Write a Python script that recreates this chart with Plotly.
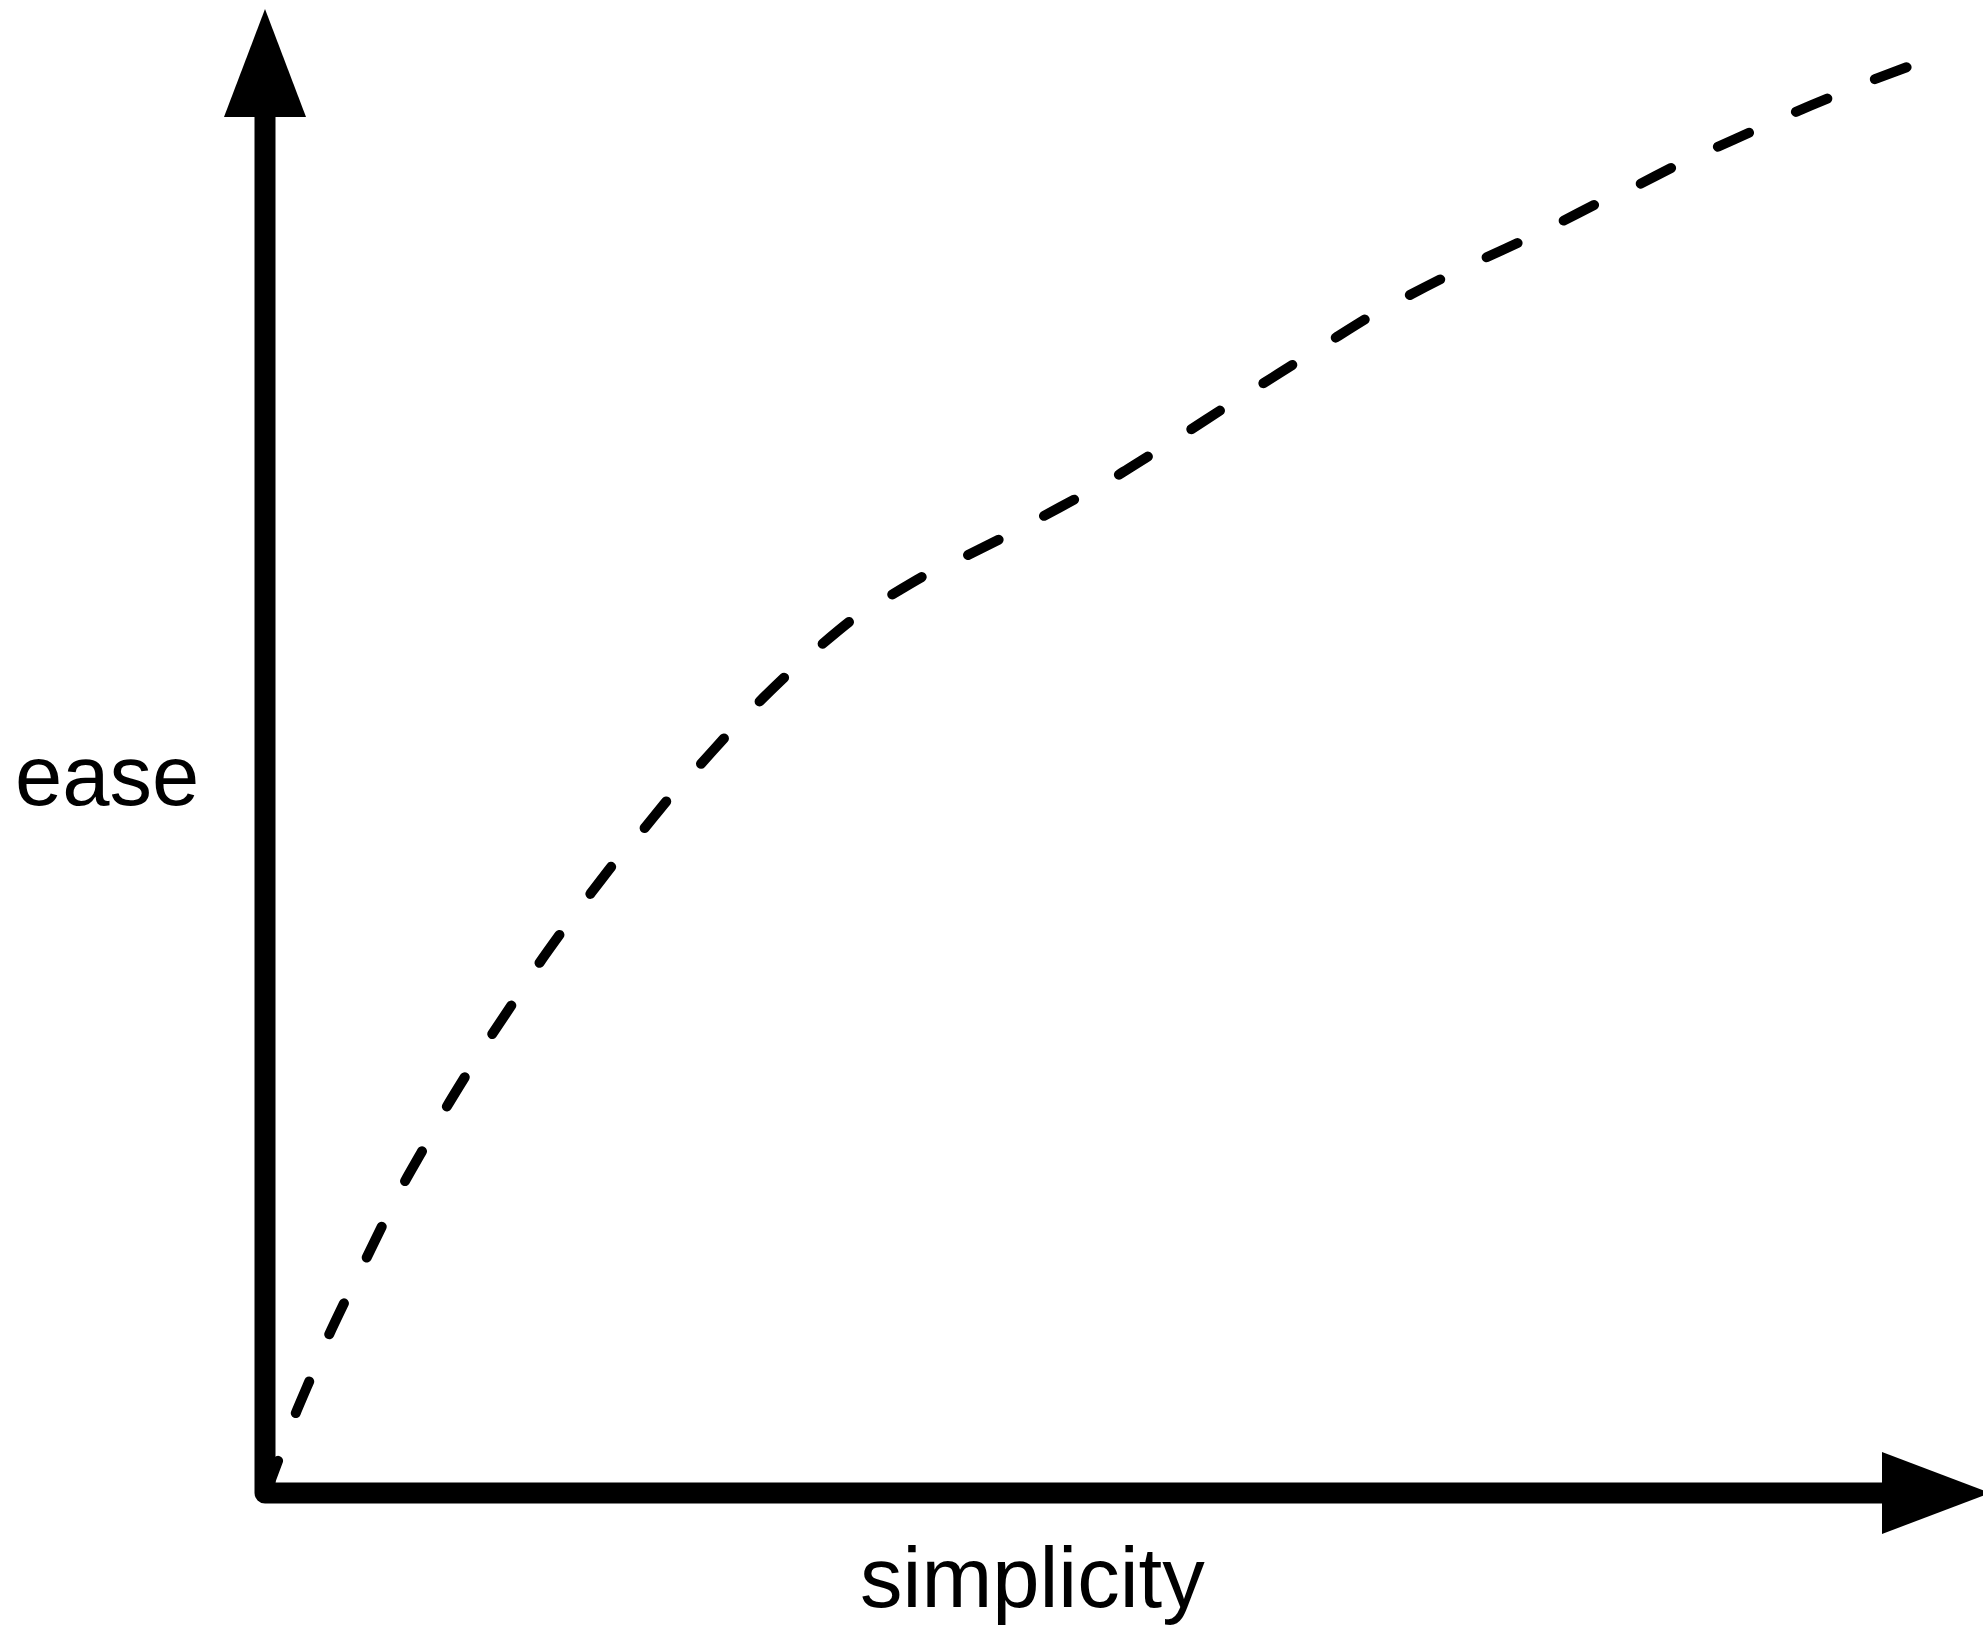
import plotly.graph_objs as go

# curve (arbitrary units, origin at the axis corner)
simplicity = [1, 16, 30, 47, 63, 82, 101, 120, 139, 160,
              181, 203, 226, 250, 273, 298, 323, 350, 378, 405,
              434, 463, 492, 523, 555, 588, 623, 664, 699, 739,
              775, 814, 850, 887, 922, 959, 994, 1032, 1067, 1104,
              1141, 1180, 1218, 1257, 1294, 1333, 1371, 1410, 1448, 1488,
              1526, 1566, 1605, 1645]
ease = [0, 40, 78, 118, 156, 196, 234, 273, 310, 347,
        385, 421, 457, 493, 528, 563, 596, 631, 663, 696,
        727, 759, 789, 819, 847, 874, 896, 920, 936, 956,
        975, 996, 1016, 1039, 1061, 1085, 1107, 1131, 1153, 1176,
        1196, 1216, 1234, 1252, 1270, 1290, 1307, 1327, 1344, 1362,
        1379, 1396, 1412, 1427]

# how far each axis arrow reaches
x_axis_end = 1725
y_axis_end = 1484
x_label = "simplicity"
y_label = "ease"

W, H = 1983, 1627
LEFT, BOTTOM = 265, 134      # pixels left of / below the corner
HEAD_LEN, HEAD_HALF = 108, 41
AXIS_W = 21
FONT = "Liberation Sans, Arial, Helvetica, sans-serif"


def arrow_head(tip_x, tip_y, dx, dy):
	# triangle pointing along (dx, dy) with its tip at the axis end
	bx, by = tip_x - dx * HEAD_LEN, tip_y - dy * HEAD_LEN
	px, py = -dy * HEAD_HALF, dx * HEAD_HALF
	return go.Scatter(x=[bx + px, tip_x, bx - px, bx + px],
					  y=[by + py, tip_y, by - py, by + py],
					  mode="none", fill="toself", fillcolor="black",
					  hoverinfo="skip")


axes = go.Scatter(x=[0, 0, x_axis_end - HEAD_LEN],
				  y=[y_axis_end - HEAD_LEN, 0, 0],
				  mode="lines", line=dict(color="black", width=AXIS_W),
				  hoverinfo="skip")

curve = go.Scatter(x=simplicity, y=ease, mode="lines",
				   line=dict(color="black", width=10, dash="34px,51.5px",
							 shape="spline", smoothing=0.6),
				   hoverinfo="skip")

data = [axes, arrow_head(0, y_axis_end, 0, 1), arrow_head(x_axis_end, 0, 1, 0), curve]

layout = go.Layout(
	width=W, height=H,
	margin=dict(l=0, r=0, t=0, b=0),
	paper_bgcolor="white", plot_bgcolor="white",
	showlegend=False, hovermode=False,
	xaxis=dict(visible=False, range=[-LEFT, W - LEFT], fixedrange=True),
	yaxis=dict(visible=False, range=[-BOTTOM, H - BOTTOM], fixedrange=True),
	annotations=[
		dict(x=-158, y=718, xref="x", yref="y", text=y_label, showarrow=False,
			 xanchor="center", yanchor="middle",
			 font=dict(family=FONT, size=85, color="black")),
		dict(x=767, y=-84, xref="x", yref="y", text=x_label, showarrow=False,
			 xanchor="center", yanchor="middle",
			 font=dict(family=FONT, size=85, color="black")),
	])

fig = go.Figure(data=data, layout=layout)

# round dash ends and corner, drop the page margin
css = ("var s=document.createElement('style');"
	   "s.innerHTML='body{margin:0;overflow:hidden}"
	   ".js-line{stroke-linecap:round;stroke-linejoin:round}';"
	   "document.head.appendChild(s);")

fig.write_html("out.html", config={"displayModeBar": False}, post_script=css)
